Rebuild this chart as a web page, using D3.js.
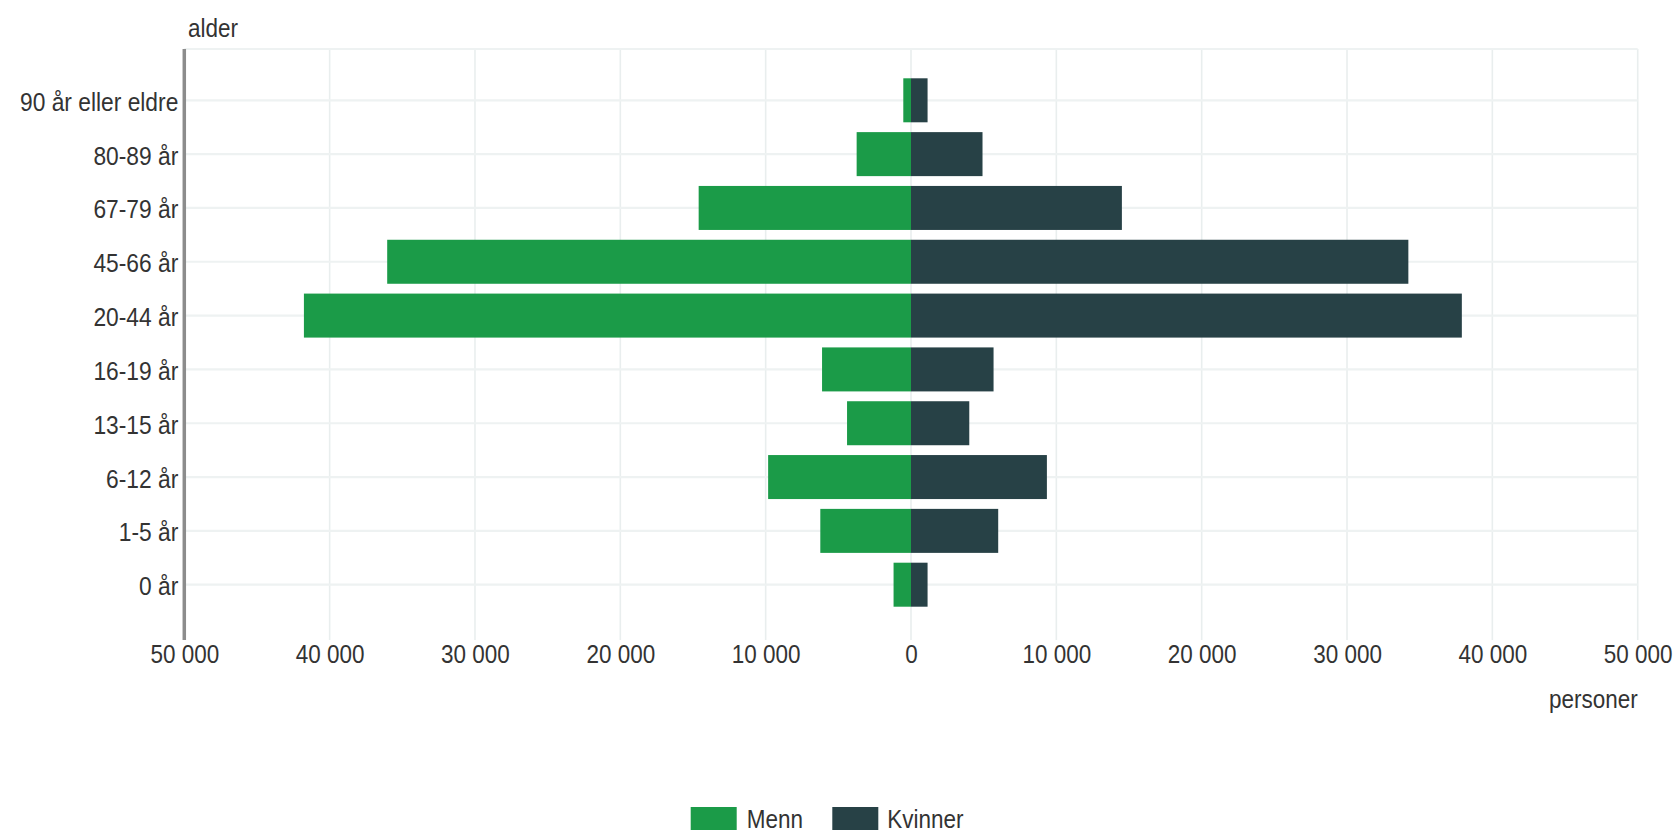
<!DOCTYPE html>
<html>
<head>
<meta charset="utf-8">
<script src="https://cdn.jsdelivr.net/npm/d3@7"></script>
<style>
  html, body { margin: 0; padding: 0; background: #ffffff; }
  svg { display: block; }
  text { font-family: "Liberation Sans", Arial, sans-serif; fill: #333333; }
</style>
</head>
<body>
<svg id="chart" width="1680" height="833"></svg>
<script>
// ---- data ----
const categories = ["90 år eller eldre", "80-89 år", "67-79 år", "45-66 år", "20-44 år",
                    "16-19 år", "13-15 år", "6-12 år", "1-5 år", "0 år"];
const menn    = [530, 3740, 14610, 36040, 41770, 6120, 4400, 9830, 6240, 1200];
const kvinner = [1140, 4920, 14510, 34220, 37900, 5680, 4010, 9350, 6000, 1140];
const xTicks  = [-50000, -40000, -30000, -20000, -10000, 0, 10000, 20000, 30000, 40000, 50000];
const seriesNames = ["Menn", "Kvinner"];
const yTitle = "alder";
const xTitle = "personer";

// ---- layout ----
const colors = { Menn: "#1b9b48", Kvinner: "#274146" };
const plot = { left: 184.3, right: 1637.7, top: 49, bottom: 640 };
const svg = d3.select("#chart");

const x = d3.scaleLinear().domain([-50000, 50000]).range([plot.left, plot.right]);
const y = d3.scalePoint().domain(categories).range([100.3, 584.7]);
const barH = 44;
const fmt = v => d3.format(",")(Math.abs(v)).replace(/,/g, " ");

// gridlines
const grid = svg.append("g");
grid.selectAll("line.v").data(xTicks).join("line")
  .attr("x1", d => x(d)).attr("x2", d => x(d))
  .attr("y1", plot.top).attr("y2", plot.bottom)
  .attr("stroke", "#e9eeee").attr("stroke-width", 1.6);
grid.selectAll("line.h").data(categories).join("line")
  .attr("x1", plot.left).attr("x2", plot.right)
  .attr("y1", d => y(d)).attr("y2", d => y(d))
  .attr("stroke", "#eef2f2").attr("stroke-width", 2.2);
grid.append("line")
  .attr("x1", plot.left).attr("x2", plot.right)
  .attr("y1", plot.top).attr("y2", plot.top)
  .attr("stroke", "#eef2f2").attr("stroke-width", 2.2);

// bars
const bars = svg.append("g");
bars.selectAll("rect.m").data(categories).join("rect")
  .attr("x", (d, i) => x(-menn[i]))
  .attr("width", (d, i) => x(0) - x(-menn[i]))
  .attr("y", d => y(d) - barH / 2)
  .attr("height", barH)
  .attr("fill", colors.Menn);
bars.selectAll("rect.k").data(categories).join("rect")
  .attr("x", x(0))
  .attr("width", (d, i) => x(kvinner[i]) - x(0))
  .attr("y", d => y(d) - barH / 2)
  .attr("height", barH)
  .attr("fill", colors.Kvinner);

// x axis
const xAxis = svg.append("g")
  .attr("transform", `translate(0,${plot.bottom})`)
  .call(d3.axisBottom(x).tickValues(xTicks).tickFormat(fmt).tickSize(0));
xAxis.select(".domain").remove();
xAxis.selectAll("text")
  .attr("y", 0).attr("dy", null)
  .attr("dominant-baseline", "central")
  .attr("transform", "translate(0,14) scale(1,1.18)")
  .style("font-size", "22.5px")
  .style("font-family", "'Liberation Sans', Arial, sans-serif")
  .attr("fill", "#333333");

// y axis
const yAxis = svg.append("g")
  .attr("transform", `translate(${plot.left},0)`)
  .call(d3.axisLeft(y).tickSize(0));
yAxis.select(".domain").remove();
yAxis.selectAll("text")
  .attr("x", 0).attr("dy", null)
  .attr("dominant-baseline", "central")
  .attr("transform", "translate(-6,1) scale(1,1.12)")
  .style("font-size", "22.8px")
  .style("font-family", "'Liberation Sans', Arial, sans-serif")
  .attr("fill", "#333333");

// left axis line
svg.append("line")
  .attr("x1", plot.left).attr("x2", plot.left)
  .attr("y1", plot.top).attr("y2", plot.bottom)
  .attr("stroke", "#8c8c8c").attr("stroke-width", 3.5);

// axis titles
svg.append("text")
  .attr("transform", "translate(188,28) scale(1,1.15)")
  .attr("dominant-baseline", "central")
  .style("font-size", "22.5px")
  .text(yTitle);
svg.append("text")
  .attr("transform", `translate(${plot.right},699) scale(1,1.15)`)
  .attr("text-anchor", "end")
  .attr("dominant-baseline", "central")
  .style("font-size", "22.5px")
  .text(xTitle);

// legend
const legendItems = [
  { name: seriesNames[0], sx: 690.7, tx: 746.7 },
  { name: seriesNames[1], sx: 832.3, tx: 887.3 }
];
const legend = svg.append("g");
legend.selectAll("rect").data(legendItems).join("rect")
  .attr("x", d => d.sx).attr("y", 807).attr("width", 46).attr("height", 23)
  .attr("fill", d => colors[d.name]);
legend.selectAll("text").data(legendItems).join("text")
  .attr("transform", d => `translate(${d.tx},819) scale(1,1.15)`)
  .attr("dominant-baseline", "central")
  .style("font-size", "22.5px")
  .text(d => d.name);
</script>
</body>
</html>
